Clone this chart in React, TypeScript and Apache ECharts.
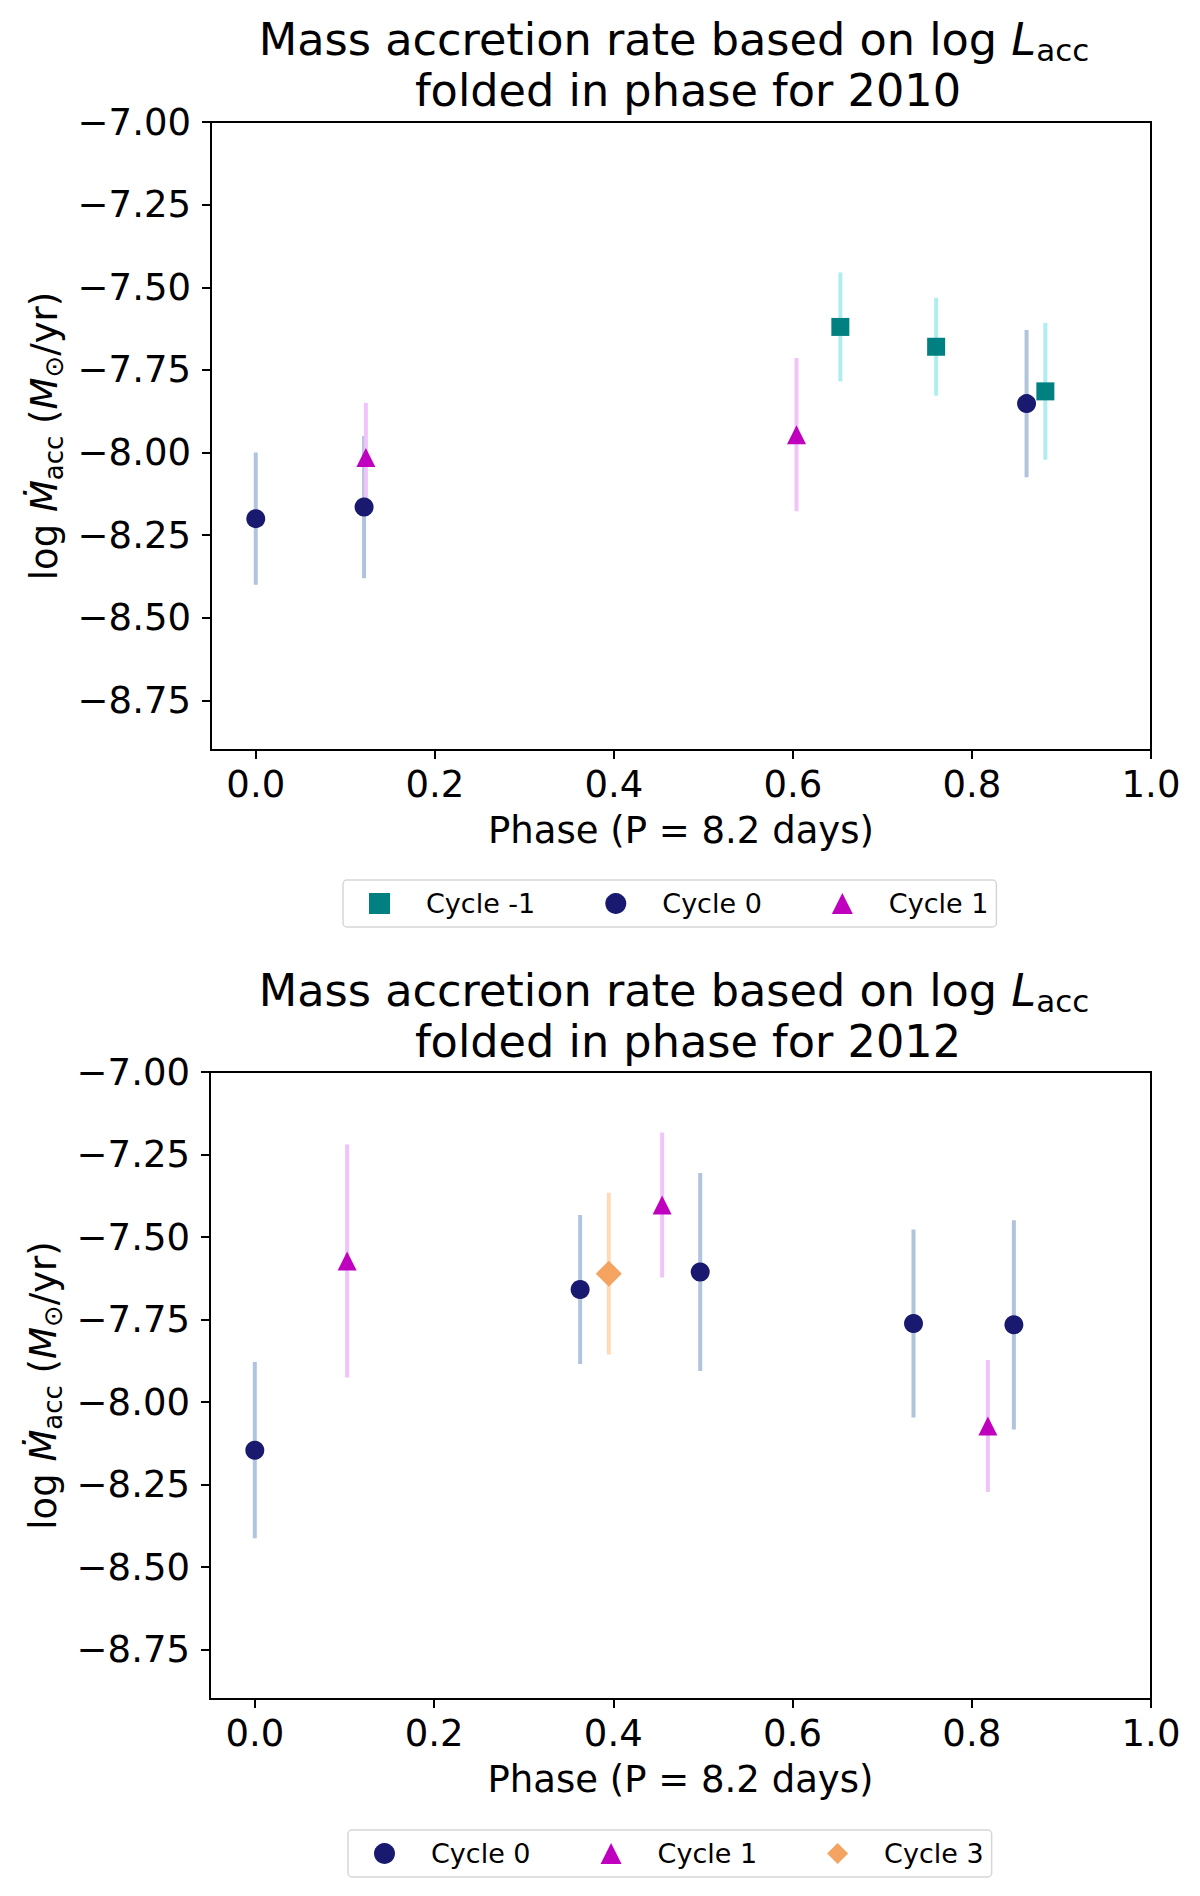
import React, { useEffect, useRef } from "react";
import * as echarts from "echarts";

const FONT = "DejaVu Sans";

// Axis ticks
const X_TICKS = [0, 0.2, 0.4, 0.6, 0.8, 1.0];
const Y_TICKS = [-8.75, -8.5, -8.25, -8.0, -7.75, -7.5, -7.25, -7.0];

// 2010 data
const C_M1_2010_PHASE = [0.653, 0.76, 0.882];
const C_M1_2010_VAL = [-7.62, -7.68, -7.815];
const C_M1_2010_ERR = [0.165, 0.148, 0.207];

const C0_2010_PHASE = [0.0, 0.121, 0.861];
const C0_2010_VAL = [-8.2, -8.165, -7.852];
const C0_2010_ERR = [0.2, 0.215, 0.223];

const C1_2010_PHASE = [0.123, 0.604];
const C1_2010_VAL = [-8.015, -7.946];
const C1_2010_ERR = [0.165, 0.232];

// 2012 data
const C0_2012_PHASE = [0.0, 0.363, 0.497, 0.735, 0.847];
const C0_2012_VAL = [-8.146, -7.659, -7.606, -7.762, -7.766];
const C0_2012_ERR = [0.267, 0.226, 0.3, 0.285, 0.317];

const C1_2012_PHASE = [0.103, 0.4545, 0.818];
const C1_2012_VAL = [-7.573, -7.403, -8.073];
const C1_2012_ERR = [0.353, 0.22, 0.2];

const C3_2012_PHASE = [0.395];
const C3_2012_VAL = [-7.611];
const C3_2012_ERR = [0.245];

const LEGEND_2010 = ["Cycle -1", "Cycle 0", "Cycle 1"];
const LEGEND_2012 = ["Cycle 0", "Cycle 1", "Cycle 3"];

// styles
const COL = {
  cm1: "#008080",
  cm1Err: "#afeeee",
  c0: "#191970",
  c0Err: "#b0c4de",
  c1: "#bf00bf",
  c1Err: "#f0c4fb",
  c3: "#f4a460",
  c3Err: "#ffdab9",
};

const fmtY = (v: number) => (v < 0 ? "\u2212" : "") + Math.abs(v).toFixed(2);
const fmtX = (v: number) => v.toFixed(1);

function errSeries(name: string, idx: number, phases: number[], vals: number[], errs: number[], color: string) {
  return {
    type: "custom",
    name: name + " err",
    xAxisIndex: idx,
    yAxisIndex: idx,
    z: 2,
    silent: true,
    encode: { x: 0, y: 1 },
    data: phases.map((p, i) => [p, vals[i], errs[i]]),
    renderItem: (params: any, api: any) => {
      const x = api.value(0);
      const y = api.value(1);
      const e = api.value(2);
      const a = api.coord([x, y + e]);
      const b = api.coord([x, y - e]);
      return {
        type: "line",
        shape: { x1: a[0], y1: a[1], x2: b[0], y2: b[1] },
        style: { stroke: color, lineWidth: 4 },
      };
    },
  };
}

function ptSeries(name: string, idx: number, phases: number[], vals: number[], symbol: string, size: number, color: string, z: number) {
  return {
    type: "scatter",
    name,
    xAxisIndex: idx,
    yAxisIndex: idx,
    z,
    symbol,
    symbolSize: size,
    itemStyle: { color, opacity: 1 },
    data: phases.map((p, i) => [p, vals[i]]),
  };
}

function makeX(idx: number) {
  return {
    type: "value",
    gridIndex: idx,
    min: -0.05,
    max: 1.0,
    name: "Phase (P = 8.2 days)",
    nameLocation: "middle",
    nameGap: 62,
    nameTextStyle: { fontFamily: FONT, fontSize: 37, color: "#000" },
    axisLine: { show: true, onZero: false, lineStyle: { color: "#000", width: 2 } },
    axisTick: { show: true, customValues: X_TICKS, length: 9, lineStyle: { color: "#000", width: 2 } },
    axisLabel: {
      customValues: X_TICKS,
      formatter: fmtX,
      fontFamily: FONT,
      fontSize: 37,
      color: "#000",
      margin: 16,
    },
    splitLine: { show: false },
  };
}

function makeY(idx: number) {
  return {
    type: "value",
    gridIndex: idx,
    min: -8.9,
    max: -7.0,
    name: "log {i|Ṁ}{sub|acc} ({i|M}{sub|⊙}/yr)",
    nameLocation: "middle",
    nameRotate: 90,
    nameGap: 136,
    nameTextStyle: {
      fontFamily: FONT,
      fontSize: 37,
      color: "#000",
      lineHeight: 44,
      rich: {
        i: { fontFamily: FONT, fontSize: 37, fontStyle: "italic", color: "#000", lineHeight: 44 },
        sub: { fontFamily: FONT, fontSize: 26, color: "#000", lineHeight: 28, verticalAlign: "bottom" },
      },
    },
    axisLine: { show: true, onZero: false, lineStyle: { color: "#000", width: 2 } },
    axisTick: { show: true, customValues: Y_TICKS, length: 9, lineStyle: { color: "#000", width: 2 } },
    axisLabel: {
      customValues: Y_TICKS,
      formatter: fmtY,
      fontFamily: FONT,
      fontSize: 37,
      color: "#000",
      margin: 20,
    },
    splitLine: { show: false },
  };
}

function makeTitle(year: string, top: number) {
  return {
    text: "{t|Mass accretion rate based on log }{i|L}{sub|acc}\n{t|folded in phase for " + year + "}",
    left: 688,
    top,
    textAlign: "center",
    padding: 0,
    textStyle: {
      fontFamily: FONT,
      fontSize: 44.6,
      fontWeight: "normal",
      color: "#000",
      lineHeight: 51,
      rich: {
        t: { fontFamily: FONT, fontSize: 44.6, color: "#000", lineHeight: 51 },
        i: { fontFamily: FONT, fontSize: 44.6, fontStyle: "italic", color: "#000", lineHeight: 51 },
        sub: { fontFamily: FONT, fontSize: 31, color: "#000", lineHeight: 36, verticalAlign: "bottom", padding: [0, 28, 0, 0] },
      },
    },
  };
}

function makeLegend(names: string[], left: number, top: number) {
  const icons: Record<string, any> = {
    "Cycle -1": { icon: "rect", itemStyle: { color: COL.cm1 } },
    "Cycle 0": { icon: "circle", itemStyle: { color: COL.c0 } },
    "Cycle 1": { icon: "triangle", itemStyle: { color: COL.c1 } },
    "Cycle 3": { icon: "diamond", itemStyle: { color: COL.c3 } },
  };
  return {
    left,
    top,
    orient: "horizontal",
    padding: [10, 8, 10, 26],
    itemGap: 70,
    itemWidth: 21,
    itemHeight: 21,
    borderColor: "#d6d6d6",
    borderWidth: 1.5,
    borderRadius: 4,
    backgroundColor: "#fff",
    selectedMode: false,
    textStyle: { fontFamily: FONT, fontSize: 27, color: "#000", padding: [0, 0, 0, 31] },
    data: names.map((n) => ({ name: n, ...icons[n] })),
  };
}

export default function App() {
  const ref = useRef<HTMLDivElement>(null);
  useEffect(() => {
    document.body.style.margin = "0";
    if (!ref.current) return;
    const chart = echarts.init(ref.current, undefined, { renderer: "svg" });
    chart.setOption({
      animation: false,
      backgroundColor: "#fff",
      textStyle: { fontFamily: FONT },
      title: [makeTitle("2010", 14), makeTitle("2012", 965)],
      legend: [makeLegend(LEGEND_2010, 343, 880), makeLegend(LEGEND_2012, 348, 1830)],
      grid: [
        { left: 211, top: 122, width: 940, height: 628, show: true, borderColor: "#000", borderWidth: 2, backgroundColor: "transparent" },
        { left: 210, top: 1072, width: 941, height: 627, show: true, borderColor: "#000", borderWidth: 2, backgroundColor: "transparent" },
      ],
      xAxis: [makeX(0), makeX(1)],
      yAxis: [makeY(0), makeY(1)],
      series: [
        errSeries("Cycle -1", 0, C_M1_2010_PHASE, C_M1_2010_VAL, C_M1_2010_ERR, COL.cm1Err),
        errSeries("Cycle 0", 0, C0_2010_PHASE, C0_2010_VAL, C0_2010_ERR, COL.c0Err),
        errSeries("Cycle 1", 0, C1_2010_PHASE, C1_2010_VAL, C1_2010_ERR, COL.c1Err),
        ptSeries("Cycle -1", 0, C_M1_2010_PHASE, C_M1_2010_VAL, "rect", 18, COL.cm1, 3),
        ptSeries("Cycle 0", 0, C0_2010_PHASE, C0_2010_VAL, "circle", 19, COL.c0, 4),
        ptSeries("Cycle 1", 0, C1_2010_PHASE, C1_2010_VAL, "triangle", 19, COL.c1, 5),
        errSeries("Cycle 0", 1, C0_2012_PHASE, C0_2012_VAL, C0_2012_ERR, COL.c0Err),
        errSeries("Cycle 1", 1, C1_2012_PHASE, C1_2012_VAL, C1_2012_ERR, COL.c1Err),
        errSeries("Cycle 3", 1, C3_2012_PHASE, C3_2012_VAL, C3_2012_ERR, COL.c3Err),
        ptSeries("Cycle 0", 1, C0_2012_PHASE, C0_2012_VAL, "circle", 19, COL.c0, 3),
        ptSeries("Cycle 1", 1, C1_2012_PHASE, C1_2012_VAL, "triangle", 19, COL.c1, 4),
        ptSeries("Cycle 3", 1, C3_2012_PHASE, C3_2012_VAL, "diamond", 26, COL.c3, 5),
      ],
    });
    return () => chart.dispose();
  }, []);
  return <div ref={ref} style={{ width: 1200, height: 1896 }} />;
}
